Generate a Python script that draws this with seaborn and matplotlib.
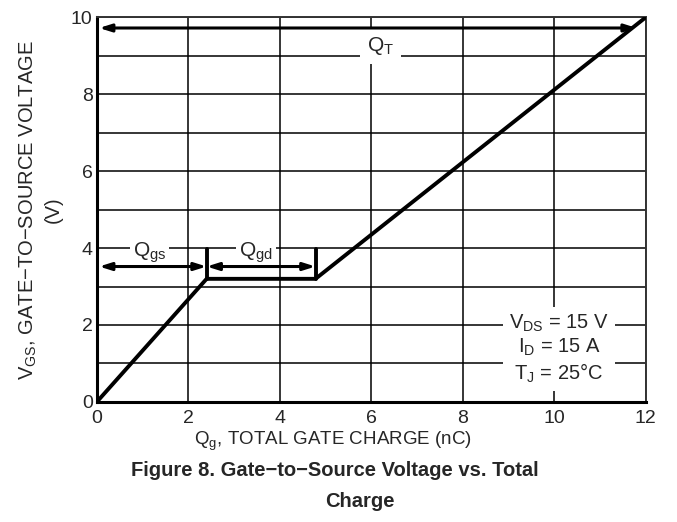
import matplotlib.pyplot as plt
import seaborn as sns

# gate charge curve (nC, V)
charge_nc = [0.0, 2.4, 4.78, 12.0]
vgs_volts = [0.0, 3.2, 3.2, 10.0]

qt_end = 11.8
qt_level = 9.72
q_level = 3.52
q_bar_top = 3.97

conditions = ["V$_{\\mathregular{DS}}$ = 15 V", "I$_{\\mathregular{D}}$ = 15 A", "T$_{\\mathregular{J}}$ = 25°C"]

sns.set_style("white")
plt.rcParams["font.family"] = ["Liberation Sans", "DejaVu Sans"]
plt.rcParams["mathtext.fontset"] = "custom"
plt.rcParams["mathtext.rm"] = "Liberation Sans"

fig = plt.figure(figsize=(6.77, 5.22), dpi=100)
ax = fig.add_axes([0.143, 0.230, 0.811, 0.737])

sns.lineplot(x=charge_nc, y=vgs_volts, sort=False, color="black", lw=2.8, ax=ax, zorder=4)

ax.set_xlim(0, 12)
ax.set_ylim(0, 10)
ax.set_xticks(range(0, 13, 2))
ax.set_yticks(range(0, 11, 2))
ax.set_yticks(range(0, 11, 1), minor=True)
ax.tick_params(length=0, labelsize=14, pad=3)
ax.tick_params(axis="x", pad=6)
ax.tick_params(which="minor", length=0)
ax.grid(True, which="both", axis="y", color="black", lw=1.1)
ax.grid(True, which="major", axis="x", color="black", lw=1.1)

for side in ["left", "bottom"]:
    ax.spines[side].set_linewidth(2.2)
    ax.spines[side].set_color("black")
for side in ["top", "right"]:
    ax.spines[side].set_linewidth(1.4)
    ax.spines[side].set_color("#333333")

arrow_kw = dict(arrowstyle="<|-|>,head_length=0.7,head_width=0.22", color="black", lw=2.2,
                shrinkA=0, shrinkB=0)
ax.annotate("", xy=(0.05, qt_level), xytext=(qt_end, qt_level), arrowprops=arrow_kw, zorder=5)
ax.annotate("", xy=(0.05, q_level), xytext=(charge_nc[1], q_level), arrowprops=arrow_kw, zorder=5)
ax.annotate("", xy=(charge_nc[1], q_level), xytext=(charge_nc[2], q_level), arrowprops=arrow_kw, zorder=5)
for xb in charge_nc[1:3]:
    ax.plot([xb, xb], [vgs_volts[1], q_bar_top], color="black", lw=2.8, zorder=5)

box = dict(facecolor="white", edgecolor="none", pad=2)
ax.text(6.2, 9.25, "Q$_{\\mathregular{T}}$", ha="center", va="center", fontsize=15,
        bbox=dict(facecolor="white", edgecolor="none", boxstyle="square,pad=0.35"), zorder=3)
ax.text(1.16, 3.87, "Q$_{\\mathregular{gs}}$", ha="center", va="center", fontsize=15, bbox=box, zorder=3)
ax.text(3.48, 3.87, "Q$_{\\mathregular{gd}}$", ha="center", va="center", fontsize=15, bbox=box, zorder=3)
ax.text(10.1, 1.38, "\n".join(conditions), ha="center", va="center", fontsize=14.5,
        linespacing=1.2, bbox=dict(facecolor="white", edgecolor="none", pad=4), zorder=3)

ax.set_ylabel("V$_{\\mathregular{GS}}$, GATE−TO−SOURCE VOLTAGE\n(V)", fontsize=14.5,
              labelpad=6, linespacing=1.3)
fig.text(0.492, 0.154, "Q$_{\\mathregular{g}}$, TOTAL GATE CHARGE (nC)", ha="center", va="center", fontsize=13.5)
fig.text(0.495, 0.098, "Figure 8. Gate−to−Source Voltage vs. Total", ha="center", va="center",
         fontsize=14.5, fontweight="bold")
fig.text(0.531, 0.040, "Charge", ha="center", va="center", fontsize=14.5, fontweight="bold")

fig.savefig("out.png", dpi=100)
